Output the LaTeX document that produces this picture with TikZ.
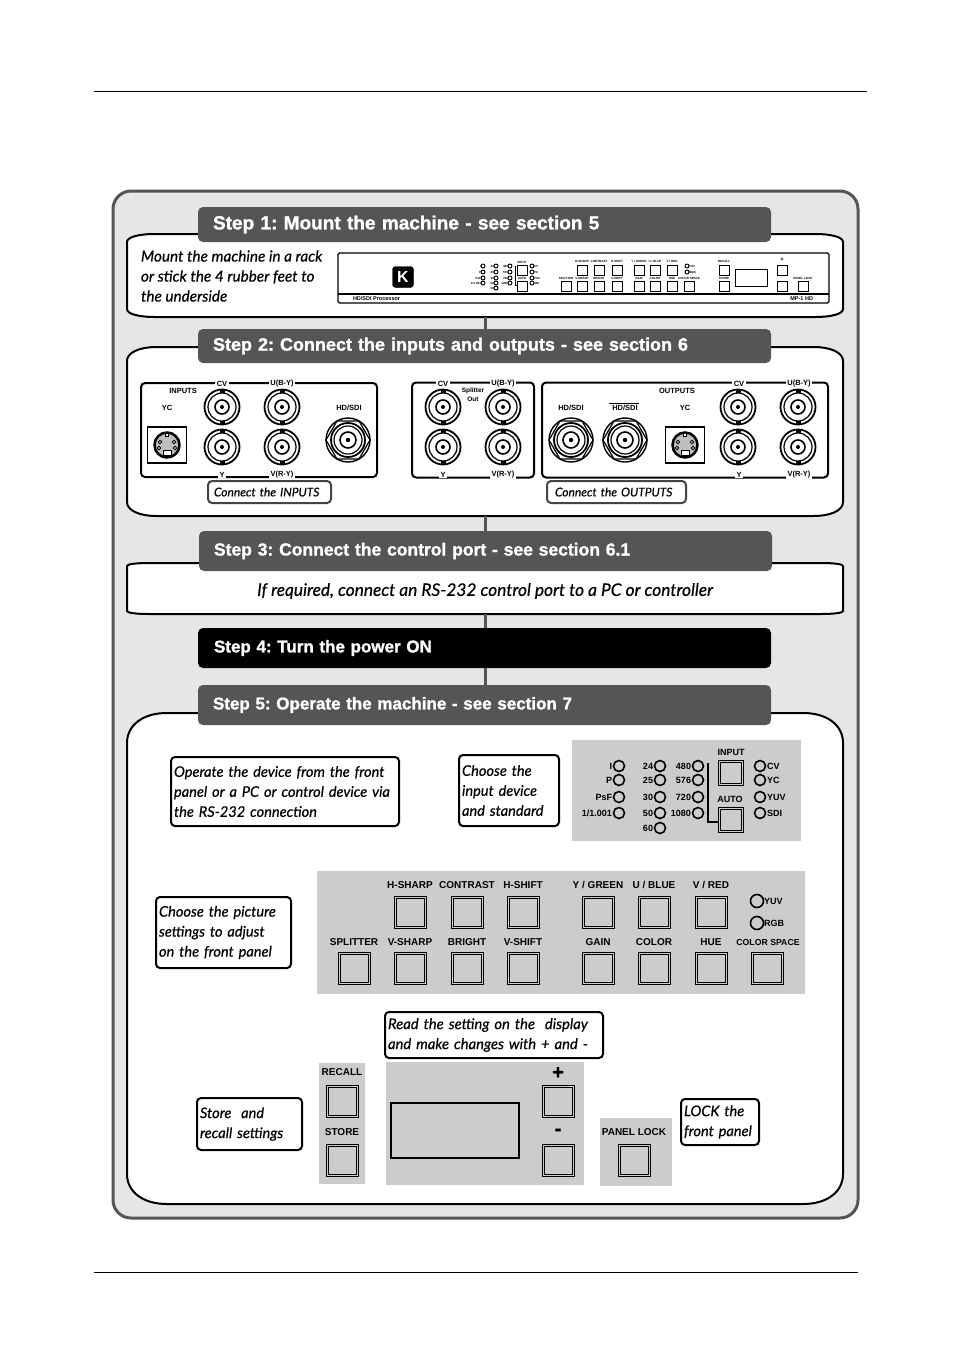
\documentclass[tikz,border=0pt]{standalone}
\usepackage{xcolor}
\usepackage{fontspec}
\setmainfont{Liberation Sans}
\newfontfamily\stepfont[BoldFeatures={FakeBold=1.3}]{Liberation Sans}
\newfontfamily\handfont[ItalicFeatures={FakeBold=0.5}]{Lato}
\usetikzlibrary{calc,positioning}
\definecolor{stepgray}{HTML}{555555}
\definecolor{outergray}{HTML}{E6E6E6}
\definecolor{panelgray}{HTML}{CCCCCC}
\newcommand{\softbox}[3]{%
  \draw[draw=black, fill=white, line width=2pt]
    ($(#1.north west)+(#2,0)$) -- ($(#1.north east)+(-#2,0)$)
    .. controls +(0.6*#2,0) and +(0,-0.6*#3) .. ($(#1.north east)+(0,#3)$)
    -- ($(#1.south east)+(0,-#3)$)
    .. controls +(0,0.6*#3) and +(0.6*#2,0) .. ($(#1.south east)+(-#2,0)$)
    -- ($(#1.south west)+(#2,0)$)
    .. controls +(-0.6*#2,0) and +(0,0.6*#3) .. ($(#1.south west)+(0,-#3)$)
    -- ($(#1.north west)+(0,#3)$)
    .. controls +(0,-0.6*#3) and +(-0.6*#2,0) .. cycle;}

\begin{document}
\begin{tikzpicture}[
  x=1pt, y=-1pt, outer sep=0pt,
  stepbar/.style={fill=#1, text=white, rounded corners=5pt, minimum width=573pt, text width=543pt, inner xsep=15pt, align=left, font=\stepfont\bfseries\frenchspacing\fontsize{17}{20}\selectfont},
  whitebox/.style={minimum width=716pt, inner sep=0pt},
  callout/.style={draw=black, fill=white, line width=2pt, rounded corners=4pt, text width=#1, inner xsep=3pt, inner ysep=0pt, align=left, font=\handfont\itshape\fontsize{14.6}{20}\selectfont},
  jackbox/.style={draw=black, line width=2pt, rounded corners=4pt},
  jacklbl/.style={fill=white, inner xsep=1.5pt, inner ysep=0.5pt, font=\fontsize{7.5}{8}\selectfont\bfseries},
  tag/.style={inner sep=0pt, font=\fontsize{7.5}{9}\selectfont\bfseries, align=center},
  keylbl/.style={inner sep=0pt, font=\fontsize{10}{11}\selectfont\bfseries},
  ledlbl/.style={inner sep=0pt, font=\fontsize{9}{10}\selectfont\bfseries},
  minilbl/.style={inner sep=0pt, font=\fontsize{3}{4}\selectfont\bfseries},
  keybtn/.style={draw=black, line width=0.8pt, minimum size=#1, inner sep=0pt,
    path picture={\draw[line width=0.8pt] ([xshift=2pt,yshift=2pt]path picture bounding box.south west) rectangle ([xshift=-2pt,yshift=-2pt]path picture bounding box.north east);}},
  minibtn/.style={draw=black, line width=0.8pt, minimum size=10pt, inner sep=0pt},
  led/.style={draw=black, line width=1.6pt, circle, minimum size=#1, inner sep=0pt},
  bnc/.pic={
    \draw[line width=1.8pt] (0,0) circle[radius=17.5];
    \draw[line width=1.2pt] (0,0) circle[radius=14];
    \draw[line width=1.6pt] (0,0) circle[radius=7];
    \fill (0,0) circle[radius=2];
    \fill (-2.5,-17.5) rectangle (2.5,-14);
    \fill (-2.5,14) rectangle (2.5,17.5);
  },
  hdbnc/.pic={
    \draw[line width=1.4pt] (0,0) circle[radius=22];
    \draw[line width=1.2pt] (-11,-19) -- (11,-19) -- (22,0) -- (11,19) -- (-11,19) -- (-22,0) -- cycle;
    \draw[line width=1.8pt] (0,0) circle[radius=17];
    \draw[line width=1.2pt] (0,0) circle[radius=14];
    \draw[line width=1.6pt] (0,0) circle[radius=8];
    \fill (0,0) circle[radius=2.2];
  },
  svideo/.pic={
    \draw[line width=1.8pt] (-19.5,-18) rectangle (19.5,18);
    \draw[line width=2.5pt, fill=black!25] (0,0) circle[radius=12.5];
    \foreach \px/\py in {-7/-3,7/-3,-8/3,8/3}
      \draw[line width=0.8pt, fill=white] (\px,\py) circle[radius=1.8];
    \draw[line width=0.8pt, fill=white] (-4,5.5) rectangle (4,10.5);
    \draw[line width=0.8pt, fill=white] (-1.5,-12) rectangle (1.5,-8.5);
  }
]
  \useasboundingbox (0,0) rectangle (954,1354);
  \fill[white] (0,0) rectangle (954,1354);

  % page rules
  \draw[line width=0.8pt] (94,91) -- (867,91);
  \draw[line width=0.8pt] (94,1272) -- (858,1272);

  % background and white boxes
  \draw[draw=stepgray, fill=outergray, line width=3pt, rounded corners=18pt] (113,191) rectangle (858,1218);
  \node[whitebox, minimum height=83pt] (boxa) at (485,275.5) {};
  \node[whitebox, minimum height=169pt] (boxb) at (485,431.5) {};
  \node[whitebox, minimum height=51pt] (boxc) at (485,588.5) {};
  \node[whitebox, minimum height=491pt] (boxe) at (485,958.5) {};
  \softbox{boxa}{28}{8}
  \softbox{boxb}{30}{14}
  \softbox{boxc}{22}{3}
  \softbox{boxe}{40}{30}

  \node[stepbar=stepgray, minimum height=35pt, font=\stepfont\bfseries\frenchspacing\fontsize{19}{20}\selectfont] (stepa) at (484.5,224.5) {Step 1: Mount the machine - see section 5};
  \node[stepbar=stepgray, minimum height=34pt, font=\stepfont\bfseries\frenchspacing\fontsize{18}{20}\selectfont] (stepb) at (484.5,346) {\raisebox{1pt}{Step 2: Connect the inputs and outputs - see section 6}};
  \node[stepbar=stepgray, minimum height=40pt, font=\stepfont\bfseries\frenchspacing\fontsize{17.5}{20}\selectfont] (stepc) at (485.5,551) {\raisebox{-1.5pt}{Step 3: Connect the control port - see section 6.1}};
  \node[stepbar=black, minimum height=40pt, text width=541pt] (stepd) at (484.5,648) {Step 4: Turn the power ON};
  \node[stepbar=stepgray, minimum height=40pt] (stepe) at (484.5,705) {Step 5: Operate the machine - see section 7};

  \draw[draw=stepgray, line width=3pt] (boxa.south) -- (boxa.south |- stepb.north);
  \draw[draw=stepgray, line width=3pt] (boxb.south) -- (boxb.south |- stepc.north);
  \draw[draw=stepgray, line width=3pt] (boxc.south) -- (boxc.south |- stepd.north);
  \draw[draw=stepgray, line width=3pt] (boxc.south |- stepd.south) -- (boxc.south |- stepe.north);

  % step 1
  \node[inner sep=0pt, anchor=west, align=left, font=\handfont\itshape\fontsize{15.3}{20}\selectfont] (mounttxt) at (141,276) {Mount the machine in a rack\\or stick the 4 rubber feet to\\the underside};
  \draw[line width=1.2pt, rounded corners=1.5pt] (338,253) rectangle (829,303);
  \draw[line width=1.6pt] (338,294) -- (829,294);
  \node[draw=black, fill=black, text=white, rounded corners=3pt, minimum width=21pt, minimum height=21pt, inner sep=0pt, font=\fontsize{16}{16}\selectfont\bfseries] (logo) at (403,277) {K};
  \node[minilbl, anchor=west, font=\fontsize{5.5}{6}\selectfont\bfseries] (minileft) at (353,298.5) {HD/SDI Processor};
  \node[minilbl, anchor=east, font=\fontsize{5.5}{6}\selectfont\bfseries] (miniright) at (813,298.5) {MP-1 HD};
  \foreach \bx/\by [count=\n] in {522/270,522/286,566/286,582/270,582/286,599/270,599/286,617/270,617/286,639/270,639/286,655/270,655/286,672/270,672/286,689/286,724/270,724/286,782/270,782/286,803/286}
    \node[minibtn] (minib\n) at (\bx,\by) {};
  \node[draw=black, line width=0.9pt, minimum width=32pt, minimum height=17pt, inner sep=0pt] (minidisp) at (751,277.5) {};
  \foreach \bx/\by/\bt [count=\n] in {522/262/INPUT,522/278/AUTO,566/278/SPLITTER,582/261/H-SHARP,582/278/V-SHARP,599/261/CONTRAST,599/278/BRIGHT,617/261/H-SHIFT,617/278/V-SHIFT,639/261/{Y / GREEN},639/278/GAIN,655/261/{U / BLUE},655/278/COLOR,672/261/{V / RED},672/278/HUE,689/278/{COLOR SPACE},724/261/RECALL,724/278/STORE,782/278/-,803/278/{PANEL LOCK}}
    \node[minilbl] (minil\n) at (\bx,\by) {\bt};
  \node[inner sep=0pt, font=\fontsize{6}{6}\selectfont\bfseries] (miniplus) at (782,260) {+};
  \foreach \bx/\by/\bt [count=\n] in {483/266/I,483/272/P,483/278/PsF,483/283/{1/1.001},496/266/24,496/272/25,496/278/30,496/283/50,496/288/60,510/266/480,510/272/576,510/278/720,510/283/1080}
    \node[led=4pt, line width=0.9pt, label={[minilbl]left:\bt}] (miniled\n) at (\bx,\by) {};
  \draw[line width=0.9pt] (515,266) -- (515,285) -- (minib2.west |- 0,285);
  \foreach \by/\bt [count=\n] in {266/CV,272/YC,278/YUV,283/SDI}
    \node[led=4pt, line width=0.9pt, label={[minilbl]right:\bt}] (miniledr\n) at (532,\by) {};
  \foreach \by/\bt [count=\n] in {266/YUV,272/RGB}
    \node[led=4pt, line width=0.9pt, label={[minilbl]right:\bt}] (miniledc\n) at (687,\by) {};

  % step 2
  \node[jackbox, minimum width=236pt, minimum height=94pt] (inbox) at (259,430) {};
  \node[jackbox, minimum width=122pt, minimum height=95pt] (splitbox) at (473,430) {};
  \node[jackbox, minimum width=286pt, minimum height=95pt] (outbox) at (685,430) {};
  \foreach \jx in {222,282,443,503,738,798}
    \foreach \jy in {407,447}
      \pic at (\jx,\jy) {bnc};
  \pic at (348,440) {hdbnc};
  \pic at (571,440) {hdbnc};
  \pic at (625,440) {hdbnc};
  \pic at (167,445) {svideo};
  \pic at (685,445) {svideo};
  \foreach \jx/\jy/\jt [count=\n] in {222/384/CV,282/384/U(B-Y),222/475/Y,282/475/V(R-Y),443/384/CV,503/384/U(B-Y),443/475/Y,503/475/V(R-Y),739/384/CV,799/384/U(B-Y),739/475/Y,799/475/V(R-Y)}
    \node[jacklbl] (jackl\n) at (\jx,\jy) {\jt};
  \node[tag] (inputstag) at (183,391) {INPUTS};
  \node[tag] (yctag) at (167,408) {YC};
  \node[tag] (hdtag) at (349,408) {HD/SDI};
  \node[tag, font=\fontsize{6.5}{9}\selectfont\bfseries] (splittag) at (473,395) {Splitter\\Out};
  \node[tag] (outputstag) at (677,391) {OUTPUTS};
  \node[tag] (hdtagb) at (571,408) {HD/SDI};
  \node[tag] (hdtagc) at (625,408) {HD/SDI};
  \draw[line width=1.4pt] (hdtagc.north west) ++(-3,-2) -- ++(30,0);
  \node[tag] (yctagb) at (685,408) {YC};
  \node[callout=117pt, draw=stepgray!80!black, minimum height=22pt, font=\handfont\itshape\fontsize{12}{14}\selectfont] (connin) at (269.5,492) {\hspace{3pt}Connect the INPUTS};
  \node[callout=133pt, draw=stepgray!80!black, minimum height=22pt, font=\handfont\itshape\fontsize{12}{14}\selectfont] (connout) at (616.5,492) {\hspace{5pt}Connect the OUTPUTS};

  % step 3
  \node[inner sep=0pt, font=\handfont\itshape\fontsize{17.3}{20}\selectfont] (rstxt) at (485,591) {If required, connect an RS-232 control port to a PC or controller};

  % step 5
  \node[callout=222pt, minimum height=69pt] (operate) at (285,791.5) {Operate the device from the front\\panel or a PC or control device via\\the RS-232 connection};
  \node[callout=94pt, minimum height=71pt] (choosein) at (509,790.5) {Choose the\\input device\\and standard};
  \node[callout=129pt, minimum height=71pt] (choosepic) at (223.5,932.5) {Choose the picture\\settings to adjust\\on the front panel};
  \node[callout=212pt, minimum height=46pt, font=\handfont\itshape\fontsize{14.8}{20}\selectfont] (readset) at (494,1035) {Read the setting on the\ \ display\\and make changes with + and -};
  \node[callout=99pt, minimum height=52pt] (storetxt) at (249.5,1124) {Store\ \ and\\recall settings};
  \node[callout=72pt, minimum height=46pt] (locktxt) at (720,1122) {LOCK the\\front panel};

  % standard panel
  \fill[panelgray] (572,740) rectangle (801,841);
  \foreach \lx/\ly/\lt [count=\n] in {619/766/I,619/780/P,619/797/PsF,619/813/{1/1.001},660/766/24,660/780/25,660/797/30,660/813/50,660/828/60,698/766/480,698/780/576,698/797/720,698/813/1080}
    \node[led=11pt, label={[ledlbl, label distance=1.5pt]left:\lt}] (stdled\n) at (\lx,\ly) {};
  \foreach \ly/\lt [count=\n] in {766/CV,780/YC,797/YUV,813/SDI}
    \node[led=11pt, label={[ledlbl, label distance=1.5pt]right:\lt}] (srcled\n) at (760,\ly) {};
  \node[keybtn=25pt] (inputbtn) at (730.5,773) {};
  \node[keybtn=25pt] (autobtn) at (730.5,820) {};
  \node[ledlbl] (inputlbl) at (731,752) {INPUT};
  \node[ledlbl] (autolbl) at (730,799) {AUTO};
  \draw[line width=2pt] (708,763) -- (708,822) -- (autobtn.west |- 0,822);

  % picture settings panel
  \fill[panelgray] (317,871) rectangle (805,994);
  \foreach \kx/\kt [count=\n] in {410/H-SHARP,467/CONTRAST,523/H-SHIFT,598/{Y / GREEN},654/{U / BLUE},711/{V / RED}} {
    \node[keylbl] (upl\n) at (\kx,885) {\kt};
    \node[keybtn=32pt] (upk\n) at (\kx,912) {};
  }
  \foreach \kx/\kt [count=\n] in {354/SPLITTER,410/V-SHARP,467/BRIGHT,523/V-SHIFT,598/GAIN,654/COLOR,711/HUE} {
    \node[keylbl] (lol\n) at (\kx,942) {\kt};
    \node[keybtn=32pt] (lok\n) at (\kx,968) {};
  }
  \node[keylbl, font=\fontsize{8.7}{11}\selectfont\bfseries] (spacelbl) at (768,942) {COLOR SPACE};
  \node[keybtn=32pt] (spacebtn) at (767,968) {};
  \node[led=13pt, label={[ledlbl, label distance=0.5pt]right:YUV}] (yuvled) at (757,901) {};
  \node[led=13pt, label={[ledlbl, label distance=0.5pt]right:RGB}] (rgbled) at (757,923) {};

  % display panel
  \fill[panelgray] (319,1063) rectangle (365,1184);
  \fill[panelgray] (386,1062) rectangle (584,1185);
  \fill[panelgray] (600,1118) rectangle (672,1186);
  \node[keylbl] (recalllbl) at (342,1072) {RECALL};
  \node[keybtn=32pt] (recallbtn) at (342,1101) {};
  \node[keylbl] (storelbl) at (342,1132) {STORE};
  \node[keybtn=32pt] (storebtn) at (342,1160) {};
  \node[draw=black, line width=1.6pt, minimum width=128pt, minimum height=55pt, inner sep=0pt] (display) at (455,1130.5) {};
  \node[inner sep=0pt, font=\stepfont\bfseries\fontsize{20}{20}\selectfont] (pluslbl) at (558,1073) {+};
  \node[keybtn=32pt] (plusbtn) at (558.5,1101) {};
  \node[inner sep=0pt, font=\stepfont\bfseries\fontsize{20}{20}\selectfont] (minuslbl) at (558,1132) {-};
  \node[keybtn=32pt] (minusbtn) at (558.5,1160) {};
  \node[keylbl] (locklbl) at (634,1132) {PANEL LOCK};
  \node[keybtn=32pt] (lockbtn) at (634.5,1160) {};
\end{tikzpicture}
\end{document}
